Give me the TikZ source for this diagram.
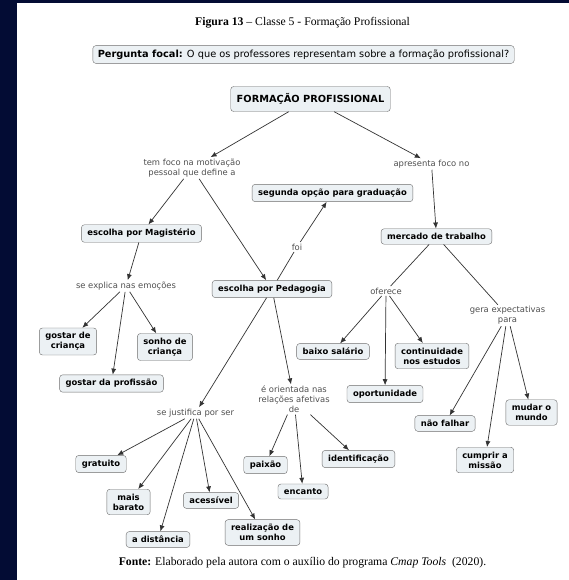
\documentclass[tikz,border=0pt]{standalone}
\usepackage{fontspec}
\setmainfont{Liberation Serif}
\newfontfamily\cmapfont{DejaVu Sans}
\usetikzlibrary{arrows.meta}
\definecolor{navy}{RGB}{3,12,52}
\definecolor{boxfill}{RGB}{236,241,244}
\definecolor{boxline}{RGB}{110,110,110}
\definecolor{phrasegray}{RGB}{80,80,80}

\begin{document}
\begin{tikzpicture}[x=1pt,y=-1pt]
\tikzstyle{concept}=[draw=boxline,fill=boxfill,rounded corners=3pt,align=center,inner xsep=6pt,inner ysep=4.5pt,font=\cmapfont\bfseries\fontsize{8.4}{10}\selectfont]
\tikzstyle{phrase}=[align=center,inner sep=1.5pt,text=phrasegray,font=\cmapfont\fontsize{8.4}{10}\selectfont]
\tikzstyle{link}=[draw=black!80,line width=0.7pt]
\tikzstyle{arrow}=[link,-{Latex[length=6pt,width=5pt]}]
% page
\useasboundingbox (0,0) rectangle (569,580);
\fill[white] (0,0) rectangle (569,580);
\fill[navy] (0,0) rectangle (16.7,580);
\fill[navy] (0,0) rectangle (569,3.5);
% caption
\node (title) at (302.5,23) {\fontsize{11.7}{14}\selectfont\textbf{Figura 13} -- Classe 5 - Formação Profissional};
\node[concept,font=\cmapfont\fontsize{9.8}{12}\selectfont,inner xsep=5pt,inner ysep=4pt] (focal) at (303.5,54.5) {\textbf{Pergunta focal:} O que os professores representam sobre a formação profissional?};
\node (source) at (302.5,563) {\fontsize{11.7}{14}\selectfont\textbf{Fonte:} Elaborado pela autora com o auxílio do programa \textit{Cmap Tools}\ \ (2020).};
% concepts
\node[concept,font=\cmapfont\bfseries\fontsize{9.8}{12}\selectfont,inner ysep=7pt] (c0) at (310.5,99) {FORMAÇÃO PROFISSIONAL};
\node[concept] (c1) at (141.5,233.5) {escolha por Magistério};
\node[concept] (c2) at (332.5,193) {segunda opção para graduação};
\node[concept] (c3) at (272,289) {escolha por Pedagogia};
\node[concept] (c4) at (436.5,236.5) {mercado de trabalho};
\node[concept] (c5) at (68,341.5) {gostar de\\criança};
\node[concept] (c6) at (165,347) {sonho de\\criança};
\node[concept] (c7) at (111.5,383.5) {gostar da profissão};
\node[concept] (c8) at (333,351.5) {baixo salário};
\node[concept] (c9) at (432,356) {continuidade\\nos estudos};
\node[concept] (c10) at (385,394) {oportunidade};
\node[concept] (c11) at (445,423.5) {não falhar};
\node[concept] (c12) at (485,460) {cumprir a\\missão};
\node[concept] (c13) at (531.5,412.5) {mudar o\\mundo};
\node[concept] (c14) at (101,464) {gratuito};
\node[concept] (c15) at (128.5,502) {mais\\barato};
\node[concept] (c16) at (211,500.5) {acessível};
\node[concept] (c17) at (158,539.5) {a distância};
\node[concept] (c18) at (262.5,532.5) {realização de\\um sonho};
\node[concept] (c19) at (265.5,465) {paixão};
\node[concept] (c20) at (303,491.5) {encanto};
\node[concept] (c21) at (358.5,459) {identificação};
% linking phrases
\node[phrase] (l0) at (192,168) {tem foco na motivação\\pessoal que define a};
\node[phrase] (l1) at (431.5,164) {apresenta foco no};
\node[phrase] (l2) at (126,286) {se explica nas emoções};
\node[phrase] (l3) at (297,247) {foi};
\node[phrase] (l4) at (386,291) {oferece};
\node[phrase] (l5) at (507.5,315.5) {gera expectativas\\para};
\node[phrase] (l6) at (195.5,413) {se justifica por ser};
\node[phrase] (l7) at (294,399.5) {é orientada nas\\relações afetivas\\de};
% links
\draw[arrow] (c0) -- (l0);
\draw[arrow] (l0) -- (c1);
\draw[arrow] (l0) -- (c3);
\draw[arrow] (c0) -- (l1);
\draw[arrow] (l1) -- (c4);
\draw[arrow] (c1) -- (l2);
\draw[arrow] (l2) -- (c5);
\draw[arrow] (l2) -- (c6);
\draw[arrow] (l2) -- (c7);
\draw[link] (c3) -- (l3);
\draw[arrow] (l3) -- (c2);
\draw[arrow] (c3) -- (l6);
\draw[arrow] (l6) -- (c14);
\draw[arrow] (l6) -- (c15);
\draw[arrow] (l6) -- (c16);
\draw[arrow] (l6) -- (c17);
\draw[arrow] (l6) -- (c18);
\draw[arrow] (c3) -- (l7);
\draw[arrow] (l7) -- (c19);
\draw[arrow] (l7) -- (c20);
\draw[arrow] (l7) -- (c21);
\draw[link] (c4) -- (l4);
\draw[arrow] (l4) -- (c8);
\draw[arrow] (l4) -- (c9);
\draw[arrow] (l4) -- (c10);
\draw[link] (c4) -- (l5);
\draw[arrow] (l5) -- (c11);
\draw[arrow] (l5) -- (c12);
\draw[arrow] (l5) -- (c13);
\end{tikzpicture}
\end{document}
